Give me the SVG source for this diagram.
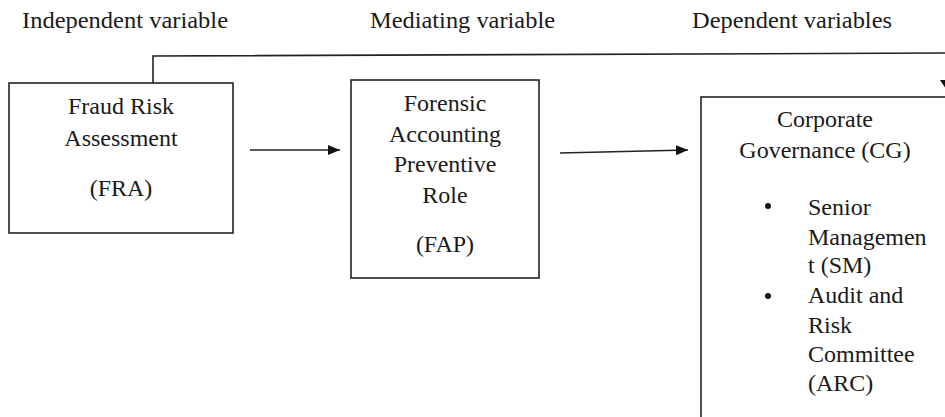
<svg xmlns="http://www.w3.org/2000/svg" width="945" height="417" viewBox="0 0 945 417">
<defs>
<marker id="ah" markerWidth="12" markerHeight="10" refX="12" refY="5" orient="auto" markerUnits="userSpaceOnUse">
<path d="M0,0 L12,5 L0,10 Z" fill="#111"/>
</marker>
</defs>
<rect width="945" height="417" fill="#fff"/>
<g id="titles">
<text font-family="Liberation Serif" font-size="24" fill="#1a1a1a" x="22" y="28" textLength="206" lengthAdjust="spacingAndGlyphs">Independent variable</text>
<text font-family="Liberation Serif" font-size="24" fill="#1a1a1a" x="370" y="28" textLength="185" lengthAdjust="spacingAndGlyphs">Mediating variable</text>
<text font-family="Liberation Serif" font-size="24" fill="#1a1a1a" x="692" y="28" textLength="200" lengthAdjust="spacingAndGlyphs">Dependent variables</text>
</g>
<g id="connectors" fill="none" stroke="#222" stroke-width="1.6">
<path d="M153,83 L153,56 L946,53 L946,80"/>
<path d="M940,80 L952,80 L946,89 Z" fill="#111" stroke="none"/>
<line x1="250" y1="150" x2="340" y2="150" marker-end="url(#ah)"/>
<line x1="560" y1="153" x2="688" y2="150" marker-end="url(#ah)"/>
</g>
<g id="fra">
<rect x="9" y="83" width="224" height="150" fill="#fff" stroke="#222" stroke-width="1.6"/>
<text font-family="Liberation Serif" font-size="24" fill="#1a1a1a" text-anchor="middle" x="121" y="114">Fraud Risk</text>
<text font-family="Liberation Serif" font-size="24" fill="#1a1a1a" text-anchor="middle" x="121" y="146">Assessment</text>
<text font-family="Liberation Serif" font-size="24" fill="#1a1a1a" text-anchor="middle" x="121" y="196">(FRA)</text>
</g>
<g id="fap">
<rect x="351" y="80" width="188" height="198" fill="#fff" stroke="#222" stroke-width="1.6"/>
<text font-family="Liberation Serif" font-size="24" fill="#1a1a1a" text-anchor="middle" x="445" y="111">Forensic</text>
<text font-family="Liberation Serif" font-size="24" fill="#1a1a1a" text-anchor="middle" x="445" y="142">Accounting</text>
<text font-family="Liberation Serif" font-size="24" fill="#1a1a1a" text-anchor="middle" x="445" y="172">Preventive</text>
<text font-family="Liberation Serif" font-size="24" fill="#1a1a1a" text-anchor="middle" x="445" y="203">Role</text>
<text font-family="Liberation Serif" font-size="24" fill="#1a1a1a" text-anchor="middle" x="445" y="252">(FAP)</text>
</g>
<g id="cg">
<rect x="701" y="97" width="260" height="340" fill="#fff" stroke="#222" stroke-width="1.6"/>
<text font-family="Liberation Serif" font-size="24" fill="#1a1a1a" text-anchor="middle" x="825" y="127">Corporate</text>
<text font-family="Liberation Serif" font-size="24" fill="#1a1a1a" text-anchor="middle" x="825" y="158">Governance (CG)</text>
<circle cx="768" cy="206" r="3" fill="#111"/>
<text font-family="Liberation Serif" font-size="24" fill="#1a1a1a" x="808" y="215">Senior</text>
<text font-family="Liberation Serif" font-size="24" fill="#1a1a1a" x="808" y="245">Managemen</text>
<text font-family="Liberation Serif" font-size="24" fill="#1a1a1a" x="808" y="273">t (SM)</text>
<circle cx="768" cy="296" r="3" fill="#111"/>
<text font-family="Liberation Serif" font-size="24" fill="#1a1a1a" x="808" y="303">Audit and</text>
<text font-family="Liberation Serif" font-size="24" fill="#1a1a1a" x="808" y="333">Risk</text>
<text font-family="Liberation Serif" font-size="24" fill="#1a1a1a" x="808" y="362">Committee</text>
<text font-family="Liberation Serif" font-size="24" fill="#1a1a1a" x="808" y="391">(ARC)</text>
</g>
</svg>
